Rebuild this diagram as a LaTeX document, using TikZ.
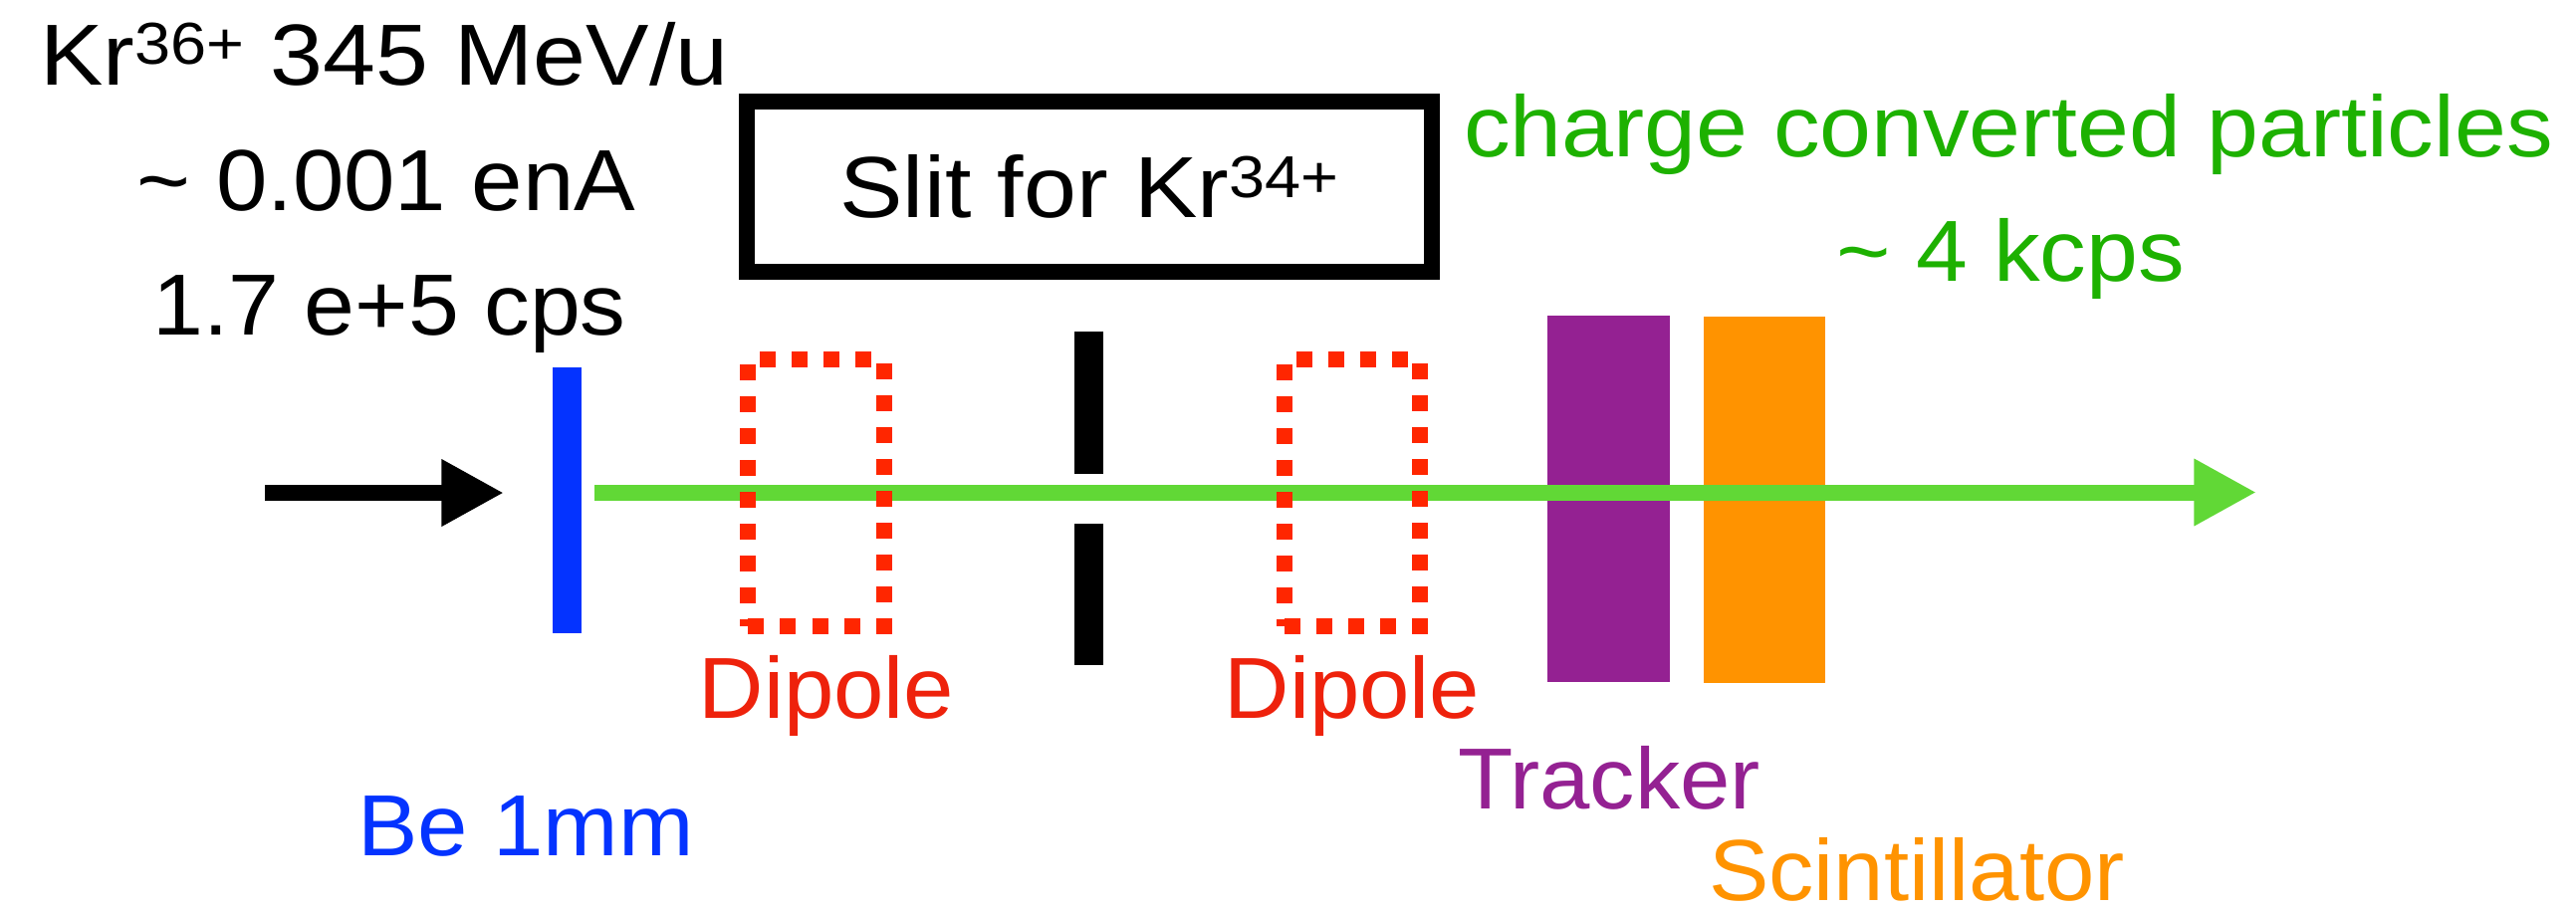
\documentclass[tikz,border=0pt]{standalone}
\usepackage{fontspec}
\setmainfont{Liberation Sans}[FakeStretch=1.04]
\usetikzlibrary{arrows.meta}
\definecolor{beblue}{HTML}{0433FF}
\definecolor{dipred}{HTML}{FF2600}
\definecolor{diptxt}{HTML}{EE220C}
\definecolor{trkpurple}{HTML}{942192}
\definecolor{scorange}{HTML}{FF9300}
\definecolor{beamgreen}{HTML}{61D836}
\definecolor{txtgreen}{HTML}{1DB100}
\newcommand\bigtxt{\fontsize{24.76pt}{30pt}\selectfont}
\newcommand\supr[1]{\raisebox{0.205cm}{\fontsize{16.9pt}{18pt}\selectfont #1}}
\newcommand\wide[2]{\scalebox{#1}[1]{#2}}
\begin{document}
\begin{tikzpicture}[x=0.01cm,y=-0.01cm,
  txt/.style={font=\bigtxt, inner sep=0pt, anchor=base},
  solidbar/.style={fill=#1, draw=none, inner sep=0pt},
  dipolebox/.style={draw=dipred, line width=0.16cm, dash pattern=on 0.16cm off 0.16cm,
     minimum width=1.36cm, minimum height=2.675cm, inner sep=0pt},
  slitbox/.style={draw=black, line width=0.16cm, minimum width=6.875cm, minimum height=1.71cm,
     inner sep=0pt, font=\bigtxt, text height=0.62cm, text depth=0cm},
  beam/.style={line width=0.16cm, -{Triangle[length=0.625cm,width=0.63cm]}}
]
\useasboundingbox (0,0) rectangle (2587,915);

% beam text
\node[txt] (l1) at (386,85) {\wide{1.05}{Kr\supr{36+} 345 MeV/u}};
\node[txt] (l2) at (388,211) {\wide{1.02}{\textasciitilde\ 0.001 enA}};
\node[txt] (l3) at (391,336) {\wide{1.01}{1.7 e+5 cps}};

% slit box
\node[slitbox] (slit) at (1094,187.5) {\wide{1.05}{Slit for Kr\supr{34+}}};

% green text
\node[txt, text=txtgreen] (ccp) at (2017,157) {\wide{1.03}{charge converted particles}};
\node[txt, text=txtgreen] (kcps) at (2019,282) {\wide{1.03}{\textasciitilde\ 4 kcps}};

% detectors (behind beam)
\node[solidbar=trkpurple, minimum width=1.23cm, minimum height=3.68cm] (trk) at (1615.5,501) {};
\node[solidbar=scorange, minimum width=1.22cm, minimum height=3.68cm] (sci) at (1772,502) {};

% target
\node[solidbar=beblue, minimum width=0.29cm, minimum height=2.67cm] (be) at (569.5,502.5) {};

% slit bars
\node[solidbar=black, minimum width=0.29cm, minimum height=1.43cm] (slitup) at (1093.5,404.5) {};
\node[solidbar=black, minimum width=0.29cm, minimum height=1.42cm] (slitdn) at (1093.5,597) {};

% beams
\coordinate (inA) at (266,495);
\coordinate (inB) at (506,495);
\draw[beam, black] (inA) -- (inB);
\coordinate (outA) at (597,494.5);
\coordinate (outB) at (2266,494.5);
\draw[beam, beamgreen] (outA) -- (outB);

% dipoles (on top of beam)
\node[dipolebox] (dip1) at (819.5,495.25) {};
\node[dipolebox] (dip2) at (1358.25,495.25) {};

% labels
\node[txt, text=diptxt] (dip1lbl) at (830,721) {Dipole};
\node[txt, text=diptxt] (dip2lbl) at (1358,721) {Dipole};
\node[txt, text=trkpurple] (trklbl) at (1616,812) {Tracker};
\node[txt, text=beblue] (belbl) at (528,859) {Be 1mm};
\node[txt, text=scorange] (scilbl) at (1925,904) {Scintillator};
\end{tikzpicture}
\end{document}
